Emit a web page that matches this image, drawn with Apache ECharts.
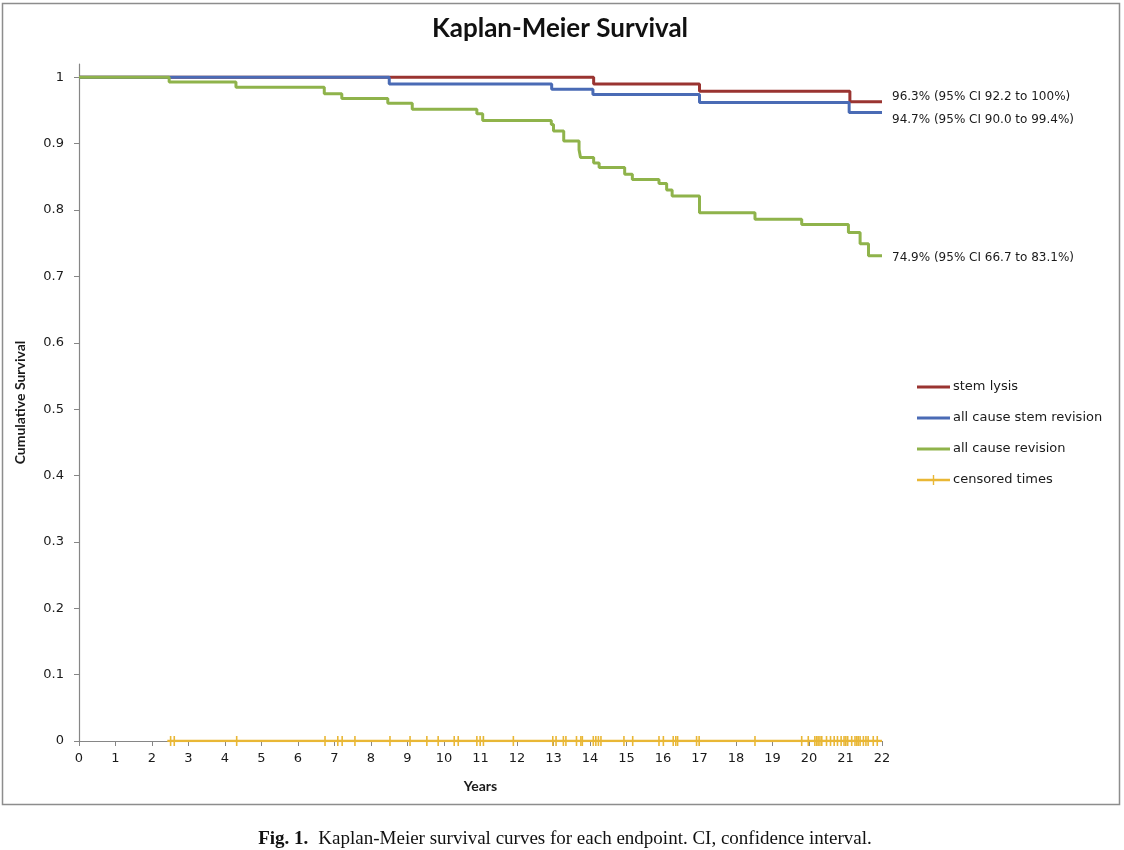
<!DOCTYPE html>
<html>
<head>
<meta charset="utf-8">
<script src="https://cdn.jsdelivr.net/npm/echarts@6/dist/echarts.min.js"></script>
<style>html,body{margin:0;padding:0;background:#fff;}#chart{width:1124px;height:850px;}</style>
</head>
<body>
<div id="chart"></div>
<script>
// ---- data ----
const seriesNames = ['stem lysis', 'all cause stem revision', 'all cause revision', 'censored times'];
const xTicks = [0, 1, 2, 3, 4, 5, 6, 7, 8, 9, 10, 11, 12, 13, 14, 15, 16, 17, 18, 19, 20, 21, 22];
const yTicks = [0, 0.1, 0.2, 0.3, 0.4, 0.5, 0.6, 0.7, 0.8, 0.9, 1];

const lysisTimes = [0, 14.1, 17.0, 21.12, 22];
const lysisSurv  = [1, 0.990, 0.979, 0.963, 0.963];

const stemRevTimes = [0, 8.5, 12.95, 14.08, 17.0, 21.1, 22];
const stemRevSurv  = [1, 0.990, 0.982, 0.974, 0.962, 0.947, 0.947];

const allRevTimes = [0, 2.47, 4.3, 6.72, 7.2, 8.46, 9.13, 10.9, 11.06, 12.94, 13.0, 13.28, 13.7, 13.74,
                     14.1, 14.25, 14.95, 15.16, 15.89, 16.1, 16.25, 17.0, 18.52, 19.8, 21.08, 21.4, 21.63, 22];
const allRevSurv  = [1, 0.993, 0.985, 0.975, 0.968, 0.961, 0.952, 0.945, 0.935, 0.929, 0.919, 0.904, 0.891, 0.879,
                     0.871, 0.864, 0.854, 0.846, 0.840, 0.830, 0.821, 0.796, 0.786, 0.778, 0.766, 0.749, 0.731, 0.731];

const censorRange = [2.42, 22];
const censorTimes = [2.51, 2.61, 4.32, 6.74, 7.09, 7.21, 7.56, 8.52, 9.07, 9.53, 9.84, 10.28, 10.39, 10.9,
                     10.99, 11.08, 11.9, 12.98, 13.07, 13.27, 13.34, 13.63, 13.75, 13.79, 14.09, 14.16, 14.23, 14.3,
                     14.93, 15.17, 15.89, 16.01, 16.28, 16.35, 16.4, 16.92, 16.99, 18.52, 19.8, 19.98, 20.16, 20.21,
                     20.25, 20.3, 20.35, 20.48, 20.59, 20.69, 20.78, 20.88, 20.96, 21.01, 21.06, 21.17, 21.26, 21.31,
                     21.35, 21.4, 21.49, 21.56, 21.62, 21.76, 21.87];

const endNotes = ['96.3% (95% CI 92.2 to 100%)', '94.7% (95% CI 90.0 to 99.4%)', '74.9% (95% CI 66.7 to 83.1%)'];
const titleText = 'Kaplan-Meier Survival';
const xName = 'Years';
const yName = 'Cumulative Survival';
const captionBold = 'Fig. 1.';
const captionText = 'Kaplan-Meier survival curves for each endpoint. CI, confidence interval.';

// ---- styling ----
const colors = ['#9a3431', '#4a6bb5', '#8fb34b', '#e9b735'];
const noteOffsets = [[0, -5], [0, 7], [0, 2]];
const tickFont = 'DejaVu Sans, Verdana, sans-serif';
const textColor = '#1a1a1a';

function zip(xs, ys) { return xs.map((x, i) => [x, ys[i]]); }

function kmSeries(idx, times, surv) {
  return {
    name: seriesNames[idx],
    type: 'line',
    step: 'end',
    data: zip(times, surv),
    symbol: 'none',
    color: colors[idx],
    lineStyle: { color: colors[idx], width: 3 },
    z: 3 + idx,
    endLabel: {
      show: true,
      formatter: endNotes[idx],
      distance: 10,
      offset: noteOffsets[idx],
      color: textColor,
      fontFamily: tickFont,
      fontSize: 12
    }
  };
}

const censorData = [{ value: [censorRange[0], 0], symbol: 'none' }]
  .concat(censorTimes.map(t => [t, 0]))
  .concat([{ value: [censorRange[1], 0], symbol: 'none' }]);

const lineIcon = 'path://M0,3.6 L33,3.6 L33,6.4 L0,6.4 Z';
const censorIcon = 'path://M0,3.8 L33,3.8 L33,6.2 L0,6.2 Z M15.8,0 L17.2,0 L17.2,10 L15.8,10 Z';

const chart = echarts.init(document.getElementById('chart'), null, { renderer: 'canvas' });
chart.setOption({
  animation: false,
  backgroundColor: '#ffffff',
  title: [
    {
      text: titleText,
      left: 555,
      top: 11,
      textAlign: 'center',
      textStyle: { fontFamily: 'Lato, sans-serif', fontWeight: 'bold', fontSize: 26, color: '#111' }
    },
    {
      text: '{b|' + captionBold + '}  {n|' + captionText + '}',
      left: 560,
      top: 825,
      textAlign: 'center',
      textStyle: {
        fontWeight: 'normal',
        rich: {
          b: { fontFamily: 'Liberation Serif, serif', fontWeight: 'bold', fontSize: 19, color: '#111' },
          n: { fontFamily: 'Liberation Serif, serif', fontWeight: 'normal', fontSize: 19, color: '#111' }
        }
      }
    }
  ],
  graphic: [{
    type: 'rect',
    shape: { x: 2.5, y: 3.5, width: 1117, height: 801 },
    style: { fill: 'none', stroke: '#8d8d8d', lineWidth: 1.5 },
    silent: true,
    z: -1
  }],
  legend: {
    orient: 'vertical',
    left: 912,
    top: 374,
    itemWidth: 33,
    itemHeight: 10,
    itemGap: 15,
    symbolKeepAspect: true,
    data: [
      { name: seriesNames[0], icon: lineIcon },
      { name: seriesNames[1], icon: lineIcon },
      { name: seriesNames[2], icon: lineIcon },
      { name: seriesNames[3], icon: censorIcon }
    ],
    textStyle: { fontFamily: tickFont, fontSize: 13, color: textColor, lineHeight: 16, padding: [0, 0, 0, -2] }
  },
  grid: { left: 79, right: 242, top: 64, bottom: 109, containLabel: false },
  xAxis: {
    type: 'value',
    min: 0,
    max: 22,
    interval: 1,
    name: xName,
    nameLocation: 'middle',
    nameGap: 38,
    nameTextStyle: { fontFamily: 'Lato, sans-serif', fontWeight: 'bold', fontSize: 14, color: textColor },
    axisLine: { show: true, lineStyle: { color: '#868686', width: 1.2 } },
    axisTick: { show: true, length: 5, lineStyle: { color: '#868686' } },
    axisLabel: {
      margin: 11,
      fontFamily: tickFont,
      fontSize: 13,
      color: textColor,
      formatter: v => String(v)
    },
    splitLine: { show: false }
  },
  yAxis: {
    type: 'value',
    min: 0,
    max: 1.02,
    interval: 0.1,
    name: yName,
    nameLocation: 'middle',
    nameRotate: 90,
    nameGap: 52,
    nameTextStyle: { fontFamily: 'Lato, sans-serif', fontWeight: 'bold', fontSize: 14, color: textColor },
    axisLine: { show: true, lineStyle: { color: '#868686', width: 1.2 } },
    axisTick: { show: true, length: 5, lineStyle: { color: '#868686' }, customValues: yTicks },
    axisLabel: {
      margin: 15,
      fontFamily: tickFont,
      fontSize: 13,
      color: textColor,
      customValues: yTicks,
      formatter: v => String(Math.round(v * 10) / 10)
    },
    splitLine: { show: false }
  },
  series: [
    kmSeries(0, lysisTimes, lysisSurv),
    kmSeries(1, stemRevTimes, stemRevSurv),
    kmSeries(2, allRevTimes, allRevSurv),
    {
      name: seriesNames[3],
      type: 'line',
      data: censorData,
      color: colors[3],
      lineStyle: { color: colors[3], width: 2.5 },
      symbol: 'rect',
      symbolSize: [1.6, 10],
      showSymbol: true,
      itemStyle: { color: colors[3] },
      z: 2
    }
  ]
});
</script>
</body>
</html>
